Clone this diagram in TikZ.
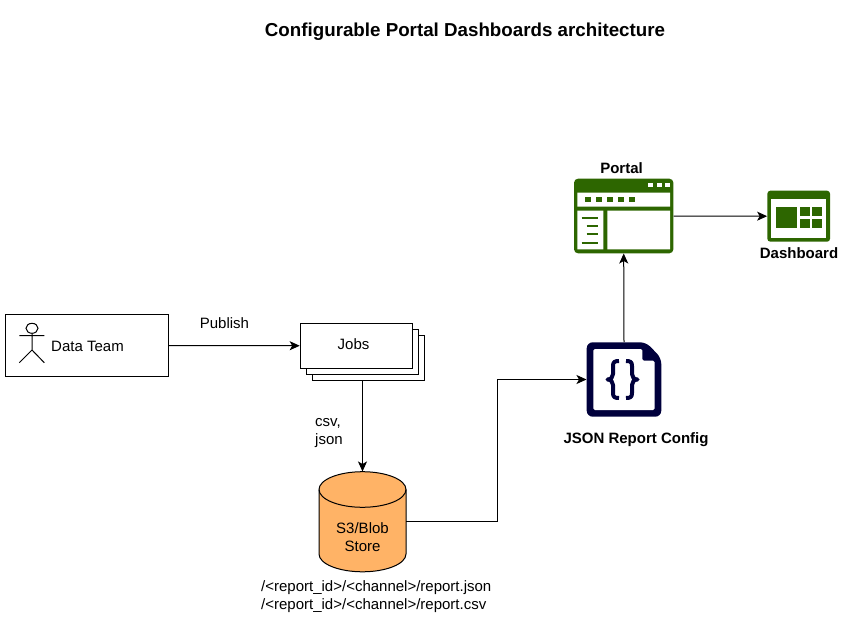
\documentclass[tikz,border=0pt]{standalone}
\usepackage{fontspec}
\setmainfont{Liberation Sans}
\usetikzlibrary{arrows.meta,positioning}
\definecolor{portalgreen}{HTML}{2D6600}
\definecolor{jsonnavy}{HTML}{00003C}
\definecolor{storeorange}{HTML}{FFB366}
\tikzset{
	link/.style={-{Stealth[length=10pt,width=9pt,inset=2.5pt]},line width=1pt},
	box/.style={draw,rectangle,line width=1pt,fill=white,inner sep=0pt},
	lbl/.style={font=\fontsize{15}{18}\selectfont,inner sep=0pt,align=left},
	bold/.style={font=\fontsize{15}{18}\selectfont\bfseries,inner sep=0pt,align=center},
	titletext/.style={font=\fontsize{18.75}{22}\selectfont\bfseries,inner sep=0pt},
	greenbit/.style={fill=portalgreen,draw=none},
	whitebit/.style={fill=white,draw=none},
	greenbar/.style={draw=portalgreen,line width=2pt},
	brace/.style={draw=jsonnavy,line width=4pt,line join=round}
}

\begin{document}
\begin{tikzpicture}[x=1pt,y=-1pt]
	\useasboundingbox (0,0) rectangle (852,618);
	\node[titletext] (title) at (465,32) {Configurable Portal Dashboards architecture};

	\node[box,minimum width=162.6pt,minimum height=62.4pt] (team) at (87,345.5) {};
	\node[lbl] (teamlabel) at (87.5,346) {Data Team};
	\draw[line width=1pt] (32,328.3) ellipse (6 and 5);
	\draw[line width=1pt] (32,333.3) -- (32,350) (19.3,335.7) -- (44.3,335.7) (19.3,362.7) -- (32,350) -- (44.3,362.7);
	\node[lbl] (publish) at (224.5,323) {Publish};

	\node[box,minimum width=112.6pt,minimum height=45pt] (jobsc) at (368.5,357.8) {};
	\node[box,minimum width=112.6pt,minimum height=45pt] (jobsb) at (362.5,351.8) {};
	\node[box,minimum width=112.6pt,minimum height=45pt] (jobs) at (356.5,345.8) {};
	\node[lbl] (jobslabel) at (353.5,344) {Jobs};
	\node[lbl,anchor=north west] (format) at (315,418) {csv,\\json};

	\draw[line width=1pt,fill=storeorange] (319,489.5) -- (319,554) .. controls (319,564) and (339,571.8) .. (362.5,571.8)
		.. controls (386,571.8) and (406,564) .. (406,554) -- (406,489.5)
		.. controls (406,479.5) and (386,471.7) .. (362.5,471.7) .. controls (339,471.7) and (319,479.5) .. (319,489.5) -- cycle;
	\draw[line width=1pt] (319,489.5) .. controls (319,499.5) and (339,507.3) .. (362.5,507.3) .. controls (386,507.3) and (406,499.5) .. (406,489.5);
	\node[rectangle,minimum width=87pt,minimum height=100pt,inner sep=0pt] (store) at (362.5,521.7) {};
	\node[lbl,align=center] (storelabel) at (362.5,537) {S3/Blob\\Store};
	\node[lbl,anchor=north west] (paths) at (261,580) {/<report\_id>/<channel>/report.json\\/<report\_id>/<channel>/report.csv};

	\node[rectangle,minimum width=74.6pt,minimum height=74.4pt,inner sep=0pt] (json) at (624,379.5) {};
	\fill[jsonnavy,rounded corners=6pt] (586.7,342.3) -- (646,342.3) -- (661.3,358) -- (661.3,416.7) -- (586.7,416.7) -- cycle;
	\fill[white,rounded corners=1.5pt] (593.3,349) -- (642.3,349) -- (642.3,360.7) -- (654.6,360.7) -- (654.6,410) -- (593.3,410) -- cycle;
	\draw[brace] (619,361) .. controls (614.5,361) and (613,362) .. (613,366) -- (613,374)
		.. controls (613,377) and (611,379.5) .. (607.5,379.5) .. controls (611,379.5) and (613,382) .. (613,385) -- (613,393)
		.. controls (613,397) and (614.5,398) .. (619,398);
	\draw[brace] (626,361) .. controls (630.5,361) and (632,362) .. (632,366) -- (632,374)
		.. controls (632,377) and (634,379.5) .. (637.5,379.5) .. controls (634,379.5) and (632,382) .. (632,385) -- (632,393)
		.. controls (632,397) and (630.5,398) .. (626,398);
	\node[bold] (jsonlabel) at (636,440) {JSON Report Config};

	\node[greenbit,rectangle,rounded corners=4pt,minimum width=99.4pt,minimum height=74.6pt,inner sep=0pt] (portal) at (623.7,216) {};
	\fill[whitebit] (577.3,192.7) rectangle (670,206.7) (577.3,210.7) rectangle (603.3,249.3) (607.3,210.7) rectangle (670,249.3);
	\foreach \px in {648,656.7,665.3}
		\fill[whitebit] (\px,183) rectangle +(5,4.4);
	\foreach \px in {584.7,595.7,607,618.3,629.3}
		\fill[greenbit] (\px,197) rectangle +(6,5.4);
	\draw[greenbar] (581.7,217.7) -- (597.7,217.7) (586.7,226) -- (597.7,226) (586.7,234.3) -- (597.7,234.3) (581.7,242.7) -- (597.7,242.7);
	\node[bold] (portallabel) at (621.5,168) {Portal};

	\node[greenbit,rectangle,rounded corners=3pt,minimum width=62.7pt,minimum height=51pt,inner sep=0pt] (dashboard) at (798.7,216.2) {};
	\fill[whitebit] (771.3,198.7) rectangle (826,237.7);
	\fill[greenbit] (775.7,206.7) rectangle (797.3,228.3);
	\foreach \px in {800.3,812.3}
		\foreach \py in {206.7,218.7}
			\fill[greenbit] (\px,\py) rectangle +(9.7,9.7);
	\node[bold] (dashlabel) at (799,253) {Dashboard};

	\draw[link] (team) -- (jobs);
	\draw[link] (jobsb.south |- jobsc.south) -- (store.north);
	\draw[link] (store.east) -- (497,521.7) |- (json.west);
	\draw[link] (json.north) -- (portal.south);
	\draw[link] (portal.east) -- (dashboard.west);
\end{tikzpicture}
\end{document}
